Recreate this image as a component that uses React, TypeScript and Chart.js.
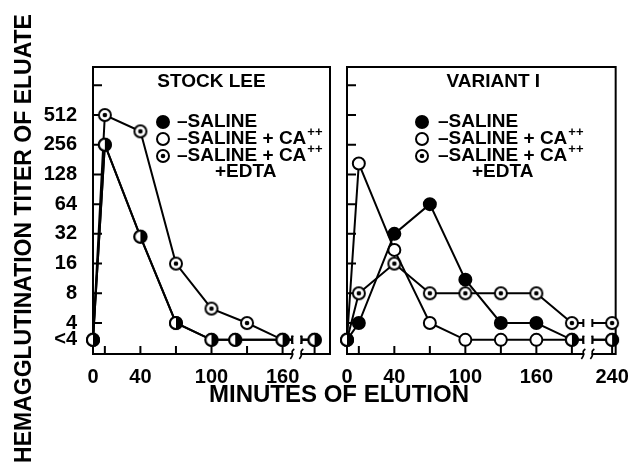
import React, { useEffect, useRef } from 'react';
import { Chart, registerables } from 'chart.js';

Chart.register(...registerables);

// ---------------- data ----------------
// "<4" titers are plotted just below the 4 level
const LT4 = 2.7;
const yTickValues = [4, 8, 16, 32, 64, 128, 256, 512, 1024];
const yTickLabels = ['4', '8', '16', '32', '64', '128', '256', '512', ''];
const yBelowLabel = '<4';

// STOCK LEE
const stockLeeMinutes = [0, 10, 40, 70, 100, 120, 160, 240];
const stockLeeSaline = [LT4, 256, 30, 4, LT4, LT4, LT4, LT4];
const stockLeeSalineCa = [LT4, 256, 30, 4, LT4, LT4, LT4, LT4];
const stockLeeEdtaMinutes = [0, 10, 40, 70, 100, 130, 160, 240];
const stockLeeSalineCaEdta = [LT4, 512, 350, 16, 5.6, 4, LT4, LT4];

// VARIANT I
const variantMinutes = [0, 10, 40, 70, 100, 130, 160, 190, 240];
const variantSaline = [LT4, 4, 32, 64, 11, 4, 4, LT4, LT4];
const variantSalineCa = [LT4, 165, 22, 4, LT4, LT4, LT4, LT4, LT4];
const variantSalineCaEdta = [LT4, 8, 16, 8, 8, 8, 8, 4, 4];

// x tick labels and tick marks (minutes)
const stockLeeXLabels = [0, 40, 100, 160];
const stockLeeXMarks = [10, 40, 70, 100, 130, 160, 240];
const variantXLabels = [0, 40, 100, 160, 240];
const variantXMarks = [10, 40, 70, 100, 130, 160, 190, 240];

const legendTexts = ['\u2013SALINE', '\u2013SALINE + CA', '\u2013SALINE + CA'];
const legendSup = ['', '++', '++'];
const legendExtra = '+EDTA';

const yAxisTitle = 'HEMAGGLUTINATION TITER OF ELUATE';
const xAxisTitle = 'MINUTES OF ELUTION';

// ---------------- layout / style ----------------
const W = 632;
const H = 466;
const AREA_TOP = 67;
const AREA_BOTTOM = 354;
const Y_MIN = 1.941;
const Y_MAX = 1569;
const FONT = "'Liberation Sans', Arial, sans-serif";

type Kind = 'filled' | 'open' | 'ring';
type Series = { minutes: number[]; values: number[]; kind: Kind; label: string };
type Panel = {
  title: string;
  titleDx: number;
  left: number;
  right: number;
  xMax: number;
  lastBeforeBreak: number;
  breakPos: number;
  afterBreakPos: number;
  xLabels: number[];
  xMarks: number[];
  legendDx: number;
  legendTextDx: number;
  extraDx: number;
  showYLabels: boolean;
  series: Series[];
};

const panels: Panel[] = [
  {
    title: 'STOCK LEE',
    titleDx: 0,
    left: 93,
    right: 330,
    xMax: 200,
    lastBeforeBreak: 160,
    breakPos: 172,
    afterBreakPos: 187,
    xLabels: stockLeeXLabels,
    xMarks: stockLeeXMarks,
    legendDx: 70,
    legendTextDx: 14,
    extraDx: 52,
    showYLabels: true,
    series: [
      { minutes: stockLeeMinutes, values: stockLeeSaline, kind: 'filled', label: 'SALINE' },
      { minutes: stockLeeMinutes, values: stockLeeSalineCa, kind: 'open', label: 'SALINE+CA' },
      { minutes: stockLeeEdtaMinutes, values: stockLeeSalineCaEdta, kind: 'ring', label: 'SALINE+CA+EDTA' },
    ],
  },
  {
    title: 'VARIANT I',
    titleDx: 12,
    left: 347,
    right: 617,
    xMax: 227,
    lastBeforeBreak: 190,
    breakPos: 203.5,
    afterBreakPos: 224,
    xLabels: variantXLabels,
    xMarks: variantXMarks,
    legendDx: 75,
    legendTextDx: 16,
    extraDx: 50,
    showYLabels: false,
    series: [
      { minutes: variantMinutes, values: variantSaline, kind: 'filled', label: 'SALINE' },
      { minutes: variantMinutes, values: variantSalineCa, kind: 'open', label: 'SALINE+CA' },
      { minutes: variantMinutes, values: variantSalineCaEdta, kind: 'ring', label: 'SALINE+CA+EDTA' },
    ],
  },
];

function makeMarker(kind: 'ring' | 'half'): HTMLCanvasElement {
  const c = document.createElement('canvas');
  c.width = 16;
  c.height = 16;
  const g = c.getContext('2d')!;
  const cx = 8, cy = 8, r = 6;
  g.beginPath();
  g.arc(cx, cy, r, 0, Math.PI * 2);
  g.fillStyle = '#fff';
  g.fill();
  if (kind === 'half') {
    g.beginPath();
    g.moveTo(cx, cy - r);
    g.arc(cx, cy, r, -Math.PI / 2, Math.PI / 2);
    g.closePath();
    g.fillStyle = '#000';
    g.fill();
  }
  g.beginPath();
  g.arc(cx, cy, r, 0, Math.PI * 2);
  g.lineWidth = 2;
  g.strokeStyle = '#000';
  g.stroke();
  if (kind === 'ring') {
    g.beginPath();
    g.arc(cx, cy, 2.3, 0, Math.PI * 2);
    g.fillStyle = '#000';
    g.fill();
  }
  return c;
}

function drawLegendMarker(ctx: CanvasRenderingContext2D, kind: Kind, x: number, y: number, ring: HTMLCanvasElement) {
  if (kind === 'ring') {
    ctx.drawImage(ring, x - 8, y - 8);
    return;
  }
  ctx.beginPath();
  ctx.arc(x, y, 6, 0, Math.PI * 2);
  ctx.fillStyle = kind === 'filled' ? '#000' : '#fff';
  ctx.fill();
  ctx.lineWidth = 2;
  ctx.strokeStyle = '#000';
  ctx.stroke();
}

function buildChart(canvas: HTMLCanvasElement, panel: Panel, isFirst: boolean) {
  const ring = makeMarker('ring');
  const half = makeMarker('half');
  const mapX = (m: number) => (m > panel.lastBeforeBreak ? panel.afterBreakPos : m);
  const filled = panel.series.find((s) => s.kind === 'filled')!;
  const open = panel.series.find((s) => s.kind === 'open')!;
  const coincident = (i: number) => {
    const m = filled.minutes[i];
    const j = open.minutes.indexOf(m);
    return j >= 0 && open.values[j] === filled.values[i];
  };

  const datasets = panel.series.map((s) => ({
    label: s.label,
    data: s.minutes.map((m, i) => ({ x: mapX(m), y: s.values[i] })),
    borderColor: '#000',
    borderWidth: 2,
    tension: 0,
    fill: false,
    clip: false as any,
    pointRadius: 6,
    pointHoverRadius: 6,
    pointBorderWidth: 2,
    pointBorderColor: '#000',
    pointBackgroundColor: s.kind === 'filled' ? '#000' : '#fff',
    pointStyle:
      s.kind === 'ring'
        ? ring
        : s.kind === 'filled'
        ? (c: any) => (typeof c.dataIndex === 'number' && coincident(c.dataIndex) ? half : 'circle')
        : 'circle',
  }));

  const decor = {
    id: 'decor' + (isFirst ? 'L' : 'R'),
    beforeDatasetsDraw(chart: any) {
      const { ctx, chartArea: a, scales } = chart;
      const xs = scales.x, ys = scales.y;
      ctx.save();
      ctx.strokeStyle = '#000';
      ctx.lineWidth = 2;
      ctx.strokeRect(a.left, a.top, a.right - a.left, a.bottom - a.top);
      ctx.beginPath();
      for (const v of yTickValues) {
        const y = ys.getPixelForValue(v);
        ctx.moveTo(a.left, y);
        ctx.lineTo(a.left + 9, y);
      }
      for (const m of panel.xMarks) {
        const x = xs.getPixelForValue(mapX(m));
        ctx.moveTo(x, a.bottom);
        ctx.lineTo(x, a.bottom - 8);
      }
      ctx.stroke();
      // axis break on the bottom frame
      const bx = xs.getPixelForValue(panel.breakPos);
      ctx.fillStyle = '#fff';
      ctx.fillRect(bx - 3.5, a.bottom - 2, 7, 4);
      ctx.lineWidth = 1.6;
      ctx.beginPath();
      for (const dx of [-4.5, 4.5]) {
        ctx.moveTo(bx + dx - 2, a.bottom + 5);
        ctx.quadraticCurveTo(bx + dx + 1, a.bottom + 1, bx + dx, a.bottom - 1);
        ctx.quadraticCurveTo(bx + dx - 1, a.bottom - 3, bx + dx + 2, a.bottom - 5);
      }
      ctx.stroke();
      ctx.restore();
    },
    afterDatasetsDraw(chart: any) {
      const { ctx, chartArea: a, scales } = chart;
      const xs = scales.x;
      ctx.save();
      // breaks on the data lines
      const bx = xs.getPixelForValue(panel.breakPos);
      panel.series.forEach((s, di) => {
        const meta = chart.getDatasetMeta(di);
        const i = s.minutes.findIndex((m, k) => m <= panel.lastBeforeBreak && k + 1 < s.minutes.length && s.minutes[k + 1] > panel.lastBeforeBreak);
        if (i < 0) return;
        const p0 = meta.data[i], p1 = meta.data[i + 1];
        const t = (bx - p0.x) / (p1.x - p0.x);
        const y = p0.y + (p1.y - p0.y) * t;
        ctx.fillStyle = '#fff';
        ctx.fillRect(bx - 4.5, y - 3, 9, 6);
        ctx.strokeStyle = '#000';
        ctx.lineWidth = 2;
        ctx.beginPath();
        ctx.moveTo(bx - 4.5, y - 4);
        ctx.lineTo(bx - 4.5, y + 4);
        ctx.moveTo(bx + 4.5, y - 4);
        ctx.lineTo(bx + 4.5, y + 4);
        ctx.stroke();
      });
      // panel title
      ctx.fillStyle = '#000';
      ctx.textBaseline = 'middle';
      ctx.textAlign = 'center';
      ctx.font = `bold 19px ${FONT}`;
      ctx.fillText(panel.title, (a.left + a.right) / 2 + panel.titleDx, a.top + 15);
      // legend
      const rows = [55, 72, 89];
      const mx = a.left + panel.legendDx;
      const tx = mx + panel.legendTextDx;
      panel.series.forEach((s, k) => {
        const y = a.top + rows[k];
        drawLegendMarker(ctx, s.kind, mx, y, ring);
        ctx.fillStyle = '#000';
        ctx.textAlign = 'left';
        ctx.textBaseline = 'middle';
        ctx.font = `bold 19px ${FONT}`;
        ctx.fillText(legendTexts[k], tx, y);
        if (legendSup[k]) {
          const w = ctx.measureText(legendTexts[k]).width;
          ctx.font = `bold 13px ${FONT}`;
          ctx.fillText(legendSup[k], tx + w + 1, y - 7);
        }
      });
      ctx.font = `bold 19px ${FONT}`;
      ctx.textAlign = 'left';
      ctx.fillText(legendExtra, tx + panel.extraDx - panel.legendTextDx, a.top + 105);

      if (isFirst) {
        // axis titles
        ctx.save();
        ctx.translate(25, 238.5);
        ctx.rotate(-Math.PI / 2);
        ctx.textAlign = 'center';
        ctx.textBaseline = 'middle';
        ctx.font = `bold 23px ${FONT}`;
        ctx.fillText(yAxisTitle, 0, 0);
        ctx.restore();
        ctx.textAlign = 'center';
        ctx.textBaseline = 'middle';
        ctx.font = `bold 24px ${FONT}`;
        ctx.fillText(xAxisTitle, 339, 395);
      }
      ctx.restore();
    },
  };

  return new Chart(canvas, {
    type: 'line',
    data: { datasets: datasets as any },
    options: {
      responsive: false,
      animation: false,
      events: [],
      layout: { padding: { left: panel.showYLabels ? 0 : panel.left, right: W - panel.right, top: AREA_TOP, bottom: 0 } },
      plugins: { legend: { display: false }, tooltip: { enabled: false }, title: { display: false } },
      scales: {
        x: {
          type: 'linear',
          min: 0,
          max: panel.xMax,
          grid: { display: false },
          border: { display: false },
          afterBuildTicks: (scale: any) => {
            scale.ticks = panel.xLabels.map((m) => ({ value: mapX(m) }));
          },
          afterFit: (scale: any) => {
            scale.height = H - AREA_BOTTOM;
          },
          ticks: {
            autoSkip: false,
            maxRotation: 0,
            minRotation: 0,
            padding: 3,
            color: '#000',
            font: { family: FONT, size: 20, weight: 'bold' },
            callback: (_v: any, i: number) => String(panel.xLabels[i]),
          },
        },
        y: {
          type: 'logarithmic',
          min: Y_MIN,
          max: Y_MAX,
          grid: { display: false },
          border: { display: false },
          afterBuildTicks: (scale: any) => {
            scale.ticks = [...yTickValues, LT4].map((v) => ({ value: v }));
          },
          afterFit: (scale: any) => {
            scale.width = panel.showYLabels ? panel.left : 0;
          },
          ticks: {
            display: panel.showYLabels,
            autoSkip: false,
            padding: 8,
            color: '#000',
            font: { family: FONT, size: 20, weight: 'bold' },
            callback: (_v: any, i: number) => (i < yTickValues.length ? yTickLabels[i] : yBelowLabel),
          },
        },
      },
    } as any,
    plugins: [decor],
  });
}

export default function App() {
  const leftRef = useRef<HTMLCanvasElement>(null);
  const rightRef = useRef<HTMLCanvasElement>(null);

  useEffect(() => {
    document.body.style.margin = '0';
    document.body.style.background = '#fff';
    const c1 = buildChart(leftRef.current!, panels[0], true);
    const c2 = buildChart(rightRef.current!, panels[1], false);
    return () => {
      c1.destroy();
      c2.destroy();
    };
  }, []);

  const canvasStyle: React.CSSProperties = { position: 'absolute', left: 0, top: 0, width: W, height: H };
  return (
    <div style={{ position: 'relative', width: W, height: H, background: '#fff', overflow: 'hidden' }}>
      <canvas ref={leftRef} width={W} height={H} style={canvasStyle} />
      <canvas ref={rightRef} width={W} height={H} style={canvasStyle} />
    </div>
  );
}
